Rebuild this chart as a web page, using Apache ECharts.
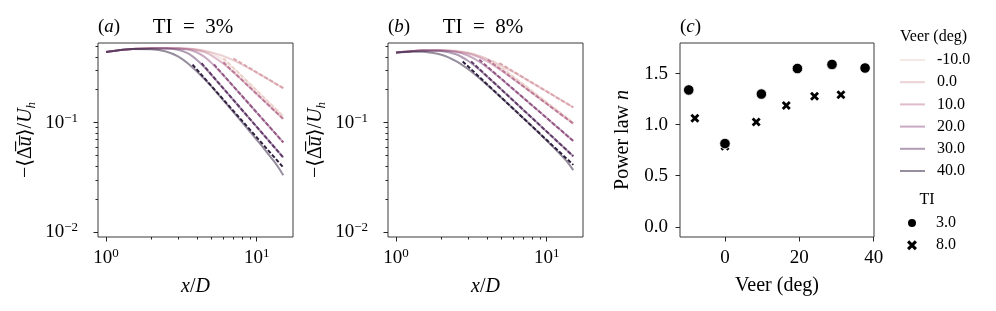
<!DOCTYPE html>
<html>
<head>
<meta charset="utf-8">
<script src="https://cdn.jsdelivr.net/npm/echarts@6/dist/echarts.min.js"></script>
<style>
html,body{margin:0;padding:0;background:#fff;}
#c{width:996px;height:311px;}
</style>
</head>
<body>
<div id="c"></div>
<script>
// ---------------- data ----------------
const xOverD = [1, 1.25, 1.5, 2, 2.5, 3, 3.5, 4, 4.5, 5, 6, 7, 8, 9, 10, 11, 12, 13, 14, 15];
const veerNames = ['-10.0', '0.0', '10.0', '20.0', '30.0', '40.0'];

// panel (a): TI = 3 %, wake deficit -<du>/Uh
const ti3_m10 = [0.443, 0.462, 0.472, 0.478, 0.4798, 0.479, 0.4764, 0.470, 0.457, 0.435, 0.374, 0.313, 0.264, 0.2262, 0.1966, 0.173, 0.154, 0.1383, 0.1252, 0.1141];
const ti3_0   = [0.443, 0.462, 0.472, 0.478, 0.4782, 0.4756, 0.471, 0.4636, 0.453, 0.439, 0.4066, 0.371, 0.3395, 0.311, 0.2867, 0.2658, 0.248, 0.2325, 0.2188, 0.207];
const ti3_10  = [0.443, 0.462, 0.472, 0.478, 0.4795, 0.4778, 0.4731, 0.4621, 0.442, 0.413, 0.3466, 0.2885, 0.244, 0.210, 0.183, 0.1616, 0.1443, 0.130, 0.1181, 0.108];
const ti3_20  = [0.443, 0.462, 0.472, 0.478, 0.4793, 0.4764, 0.4659, 0.4403, 0.3993, 0.352, 0.2717, 0.2147, 0.1749, 0.1458, 0.1237, 0.1067, 0.0932, 0.0824, 0.0734, 0.066];
const ti3_30  = [0.443, 0.462, 0.472, 0.4776, 0.477, 0.4647, 0.430, 0.3759, 0.3206, 0.2737, 0.2058, 0.1612, 0.1304, 0.1082, 0.0914, 0.0786, 0.0684, 0.0603, 0.0536, 0.048];
const ti3_40  = [0.443, 0.4618, 0.4705, 0.469, 0.448, 0.404, 0.348, 0.295, 0.250, 0.2148, 0.160, 0.125, 0.1005, 0.083, 0.0695, 0.0595, 0.051, 0.0445, 0.0385, 0.033];
// power-law fits (start, end)
const ti3Fit_m10 = [[6, 0.39], [15, 0.114]];
const ti3Fit_0   = [[7, 0.386], [15, 0.207]];
const ti3Fit_10  = [[6, 0.356], [15, 0.108]];
const ti3Fit_20  = [[5.2, 0.341], [15, 0.066]];
const ti3Fit_30  = [[4.3, 0.35], [15, 0.048]];
const ti3Fit_40  = [[3.75, 0.339], [15, 0.039]];

// panel (b): TI = 8 %
const ti8_m10 = [0.437, 0.4499, 0.4567, 0.460, 0.4541, 0.4395, 0.4139, 0.3808, 0.3463, 0.3144, 0.2621, 0.2233, 0.1940, 0.1713, 0.1531, 0.1384, 0.1261, 0.1158, 0.1071, 0.0995];
const ti8_0   = [0.437, 0.4496, 0.4559, 0.4571, 0.4482, 0.4323, 0.4096, 0.3837, 0.3573, 0.3326, 0.2906, 0.2575, 0.2310, 0.2101, 0.1927, 0.1781, 0.1658, 0.1552, 0.1461, 0.138];
const ti8_10  = [0.437, 0.4499, 0.4565, 0.4588, 0.450, 0.4306, 0.4002, 0.3649, 0.3306, 0.300, 0.2507, 0.2146, 0.1871, 0.1659, 0.1487, 0.1349, 0.1233, 0.1136, 0.1052, 0.098];
const ti8_20  = [0.437, 0.4499, 0.4565, 0.4578, 0.4437, 0.4114, 0.3664, 0.3213, 0.2824, 0.2504, 0.2020, 0.1684, 0.1437, 0.1249, 0.1102, 0.0983, 0.0887, 0.0806, 0.0738, 0.068];
const ti8_30  = [0.437, 0.4498, 0.456, 0.4528, 0.4222, 0.3683, 0.3123, 0.266, 0.2296, 0.2010, 0.1593, 0.1308, 0.1103, 0.0948, 0.0828, 0.0733, 0.0656, 0.0592, 0.0539, 0.0493];
const ti8_40  = [0.4358, 0.4457, 0.4456, 0.4184, 0.3659, 0.3098, 0.2615, 0.223, 0.1928, 0.1688, 0.1337, 0.1096, 0.0924, 0.079, 0.0685, 0.060, 0.0532, 0.0473, 0.042, 0.0368];
const ti8Fit_m10 = [[4.36, 0.37], [15, 0.0995]];
const ti8Fit_0   = [[4.85, 0.35], [15, 0.138]];
const ti8Fit_10  = [[4.06, 0.376], [15, 0.098]];
const ti8Fit_20  = [[3.57, 0.376], [15, 0.068]];
const ti8Fit_30  = [[3.15, 0.363], [15, 0.0493]];
const ti8Fit_40  = [[2.77, 0.363], [15, 0.0411]];

// panel (c): power-law exponent n vs veer
const veerTI3 = [-9.75, 0, 9.8, 19.5, 28.8, 37.7];
const nTI3    = [1.34, 0.815, 1.30, 1.55, 1.59, 1.555];
const veerTI8 = [-8.1, 0, 8.4, 16.5, 24.1, 31.2];
const nTI8    = [1.063, 0.79, 1.027, 1.187, 1.278, 1.294];

// tick values
const xMajorLog = [1, 10];
const xMinorLog = [2, 3, 4, 5, 6, 7, 8, 9];
const yMajorLog = [0.01, 0.1];
const yMinorLog = [0.02, 0.03, 0.04, 0.05, 0.06, 0.07, 0.08, 0.09, 0.2, 0.3, 0.4, 0.5];
const cXTicks = [0, 20, 40];
const cYTicks = [0, 0.5, 1.0, 1.5];

// ---------------- style ----------------
const FONT = "'Liberation Serif', 'DejaVu Serif', serif";
const colors = ['#edd1cb', '#daa4ac', '#bd7a98', '#935685', '#613969', '#2d1e3e'];
const AX = '#262626';
const CROSS = 'path://M2.2,0 L5,2.8 L7.8,0 L10,2.2 L7.2,5 L10,7.8 L7.8,10 L5,7.2 L2.2,10 L0,7.8 L2.8,5 L0,2.2 Z';

function fade(hex, a) {
  const r = parseInt(hex.slice(1, 3), 16), g = parseInt(hex.slice(3, 5), 16), b = parseInt(hex.slice(5, 7), 16);
  return 'rgba(' + r + ',' + g + ',' + b + ',' + a + ')';
}
function supLabel(v) {
  const e = Math.round(Math.log10(v));
  return '{b|10}{s|' + (e < 0 ? '\u2212' + (-e) : String(e)) + '}';
}
const supRich = {
  b: { fontSize: 19, fontFamily: FONT, color: '#000', lineHeight: 22 },
  s: { fontSize: 13, fontFamily: FONT, color: '#000', verticalAlign: 'top', lineHeight: 13 }
};

const grids = [
  { left: 98, top: 43, width: 195, height: 194 },
  { left: 388, top: 43, width: 195, height: 194 },
  { left: 680, top: 43, width: 194, height: 194 }
].map(g => Object.assign(g, { show: true, borderColor: '#3a3a3a', borderWidth: 1, backgroundColor: 'transparent', containLabel: false, outerBoundsMode: 'none' }));

const X_MIN = 0.885, X_MAX = 17.4, Y_MIN = 0.009, Y_MAX = 0.535;

function logX(gi, major) {
  return {
    type: 'log', logBase: 10, gridIndex: gi, position: 'bottom', min: X_MIN, max: X_MAX,
    axisLine: { show: false, onZero: false },
    splitLine: { show: false },
    axisTick: { show: true, customValues: major ? xMajorLog : xMinorLog, length: major ? 4.5 : 2.5, lineStyle: { color: AX, width: 1 } },
    axisLabel: major ? { show: true, customValues: xMajorLog, margin: 10, formatter: supLabel, rich: supRich, color: '#000' } : { show: false },
    name: major ? '{i|x}/{i|D}' : '',
    nameLocation: 'middle', nameGap: 40, nameMoveOverlap: false,
    nameTextStyle: { fontSize: 20, fontFamily: FONT, color: '#000', rich: { i: { fontStyle: 'italic', fontSize: 20, fontFamily: FONT, color: '#000' } } }
  };
}
function logY(gi, major) {
  return {
    type: 'log', logBase: 10, gridIndex: gi, position: 'left', min: Y_MIN, max: Y_MAX,
    axisLine: { show: false, onZero: false },
    splitLine: { show: false },
    axisTick: { show: true, customValues: major ? yMajorLog : yMinorLog, length: major ? 4.5 : 2.5, lineStyle: { color: AX, width: 1 } },
    axisLabel: major ? { show: true, customValues: yMajorLog, margin: 20, formatter: supLabel, rich: supRich, color: '#000' } : { show: false },
    name: major ? '\u2212\u27E8\u0394\u0305{i|u\u0305}\u27E9/{i|U}{sub|h}' : '',
    nameLocation: 'middle', nameRotate: 90, nameGap: 60, nameMoveOverlap: false,
    nameTextStyle: {
      fontSize: 20, fontFamily: FONT, color: '#000', lineHeight: 24,
      rich: {
        i: { fontStyle: 'italic', fontSize: 20, fontFamily: FONT, color: '#000', lineHeight: 24 },
        sub: { fontStyle: 'italic', fontSize: 13, fontFamily: FONT, color: '#000', verticalAlign: 'bottom', lineHeight: 13 }
      }
    }
  };
}

const xAxes = [logX(0, true), logX(0, false), logX(1, true), logX(1, false), {
  type: 'value', gridIndex: 2, position: 'bottom', min: -12.1, max: 40.1,
  axisLine: { show: false, onZero: false }, splitLine: { show: false },
  axisTick: { show: true, customValues: cXTicks, length: 4.5, lineStyle: { color: AX, width: 1 } },
  axisLabel: { show: true, customValues: cXTicks, margin: 12, fontSize: 19, fontFamily: FONT, color: '#000', formatter: v => String(v) },
  name: 'Veer (deg)', nameLocation: 'middle', nameGap: 39, nameMoveOverlap: false,
  nameTextStyle: { fontSize: 20, fontFamily: FONT, color: '#000' }
}];
const yAxes = [logY(0, true), logY(0, false), logY(1, true), logY(1, false), {
  type: 'value', gridIndex: 2, position: 'left', min: -0.1, max: 1.8,
  axisLine: { show: false, onZero: false }, splitLine: { show: false },
  axisTick: { show: true, customValues: cYTicks, length: 4.5, lineStyle: { color: AX, width: 1 } },
  axisLabel: { show: true, customValues: cYTicks, margin: 12, fontSize: 19, fontFamily: FONT, color: '#000', formatter: v => v.toFixed(1) },
  name: 'Power law {i|n}', nameLocation: 'middle', nameRotate: 90, nameGap: 47, nameMoveOverlap: false,
  nameTextStyle: { fontSize: 20, fontFamily: FONT, color: '#000', rich: { i: { fontStyle: 'italic', fontSize: 20, fontFamily: FONT, color: '#000' } } }
}];

const solidsA = [ti3_m10, ti3_0, ti3_10, ti3_20, ti3_30, ti3_40];
const fitsA = [ti3Fit_m10, ti3Fit_0, ti3Fit_10, ti3Fit_20, ti3Fit_30, ti3Fit_40];
const solidsB = [ti8_m10, ti8_0, ti8_10, ti8_20, ti8_30, ti8_40];
const fitsB = [ti8Fit_m10, ti8Fit_0, ti8Fit_10, ti8Fit_20, ti8Fit_30, ti8Fit_40];

const series = [];
function addPanel(solids, fits, axisIdx) {
  solids.forEach((vals, k) => {
    series.push({
      type: 'line', name: veerNames[k], xAxisIndex: axisIdx, yAxisIndex: axisIdx,
      data: xOverD.map((x, i) => [x, vals[i]]),
      symbol: 'none', showSymbol: false, smooth: 0.2, silent: true, z: 2,
      lineStyle: { color: fade(colors[k], 0.5), width: 2 },
      itemStyle: { color: fade(colors[k], 0.5) }
    });
  });
  fits.forEach((pts, k) => {
    series.push({
      type: 'line', name: 'fit ' + veerNames[k], xAxisIndex: axisIdx, yAxisIndex: axisIdx,
      data: pts, symbol: 'none', showSymbol: false, silent: true, z: 3,
      lineStyle: { color: colors[k], width: 2, type: [4, 2] },
      itemStyle: { color: colors[k] }
    });
  });
}
addPanel(solidsA, fitsA, 0);
addPanel(solidsB, fitsB, 2);

series.push({
  type: 'scatter', name: '8.0', xAxisIndex: 4, yAxisIndex: 4, z: 4, silent: true,
  data: veerTI8.map((v, i) => [v, nTI8[i]]), symbol: CROSS, symbolSize: 9,
  itemStyle: { color: '#000', opacity: 1 }
});
series.push({
  type: 'scatter', name: '3.0', xAxisIndex: 4, yAxisIndex: 4, z: 5, silent: true,
  data: veerTI3.map((v, i) => [v, nTI3[i]]), symbol: 'circle', symbolSize: 10.5,
  itemStyle: { color: '#000', borderColor: '#fff', borderWidth: 0.8, opacity: 1 }
});

function txt(x, y, text, size, align, rich) {
  return {
    type: 'text', x: x, y: y, silent: true,
    style: { text: text, fontSize: size, fontFamily: FONT, fill: '#000', align: align, verticalAlign: 'middle', rich: rich || {} }
  };
}
const italRich = { i: { fontStyle: 'italic', fontSize: 19, fontFamily: FONT, fill: '#000', color: '#000' } };

const option = {
  animation: false,
  backgroundColor: '#fff',
  textStyle: { fontFamily: FONT },
  grid: grids,
  xAxis: xAxes,
  yAxis: yAxes,
  series: series,
  legend: [{
    orient: 'vertical', left: 895, top: 47, itemWidth: 25, itemHeight: 2, itemGap: 6.2, padding: 5,
    selectedMode: false,
    data: veerNames.map((n, k) => ({ name: n, icon: 'rect', itemStyle: { color: fade(colors[k], 0.5) }, lineStyle: { color: fade(colors[k], 0.5), width: 2 } })),
    textStyle: { fontSize: 16, fontFamily: FONT, color: '#000', lineHeight: 16, padding: [0, 0, 0, 7] }
  }, {
    orient: 'vertical', left: 901, top: 210, itemWidth: 10, itemHeight: 10, itemGap: 6.2, padding: 5,
    selectedMode: false,
    data: [{ name: '3.0', icon: 'circle', itemStyle: { color: '#000', opacity: 1 } }, { name: '8.0', icon: CROSS, itemStyle: { color: '#000', opacity: 1 } }],
    textStyle: { fontSize: 16, fontFamily: FONT, color: '#000', lineHeight: 16, padding: [0, 0, 0, 14] }
  }],
  graphic: [
    txt(98, 27, '({i|a})', 19, 'left', italRich),
    txt(193, 27, 'TI\u2002=\u20023%', 21, 'center'),
    txt(388, 27, '({i|b})', 19, 'left', italRich),
    txt(483, 27, 'TI\u2002=\u20028%', 21, 'center'),
    txt(680, 27, '({i|c})', 19, 'left', italRich),
    txt(900, 37, 'Veer (deg)', 16, 'left'),
    txt(927, 200, 'TI', 16, 'center')
  ]
};

const chart = echarts.init(document.getElementById('c'), null, { renderer: 'canvas', width: 996, height: 311 });
chart.setOption(option);
</script>
</body>
</html>
